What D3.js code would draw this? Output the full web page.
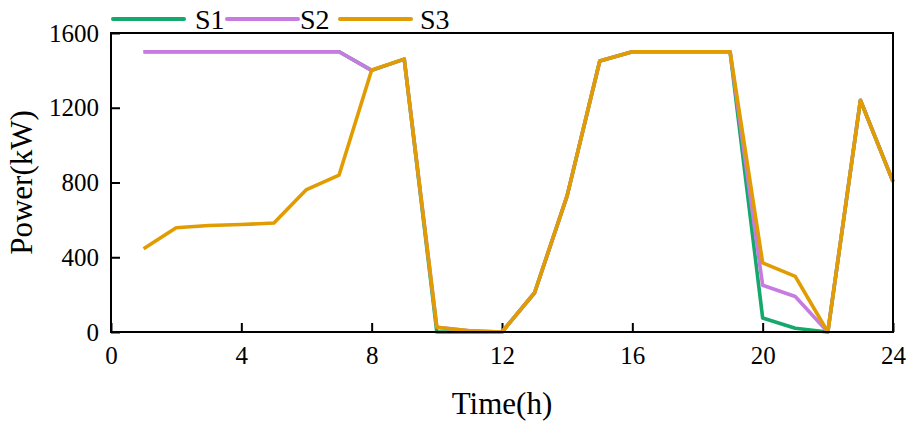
<!DOCTYPE html>
<html>
<head>
<meta charset="utf-8">
<script src="https://cdn.jsdelivr.net/npm/d3@7"></script>
<style>
  body { margin: 0; background: #fff; }
  svg text { font-family: "Liberation Serif", "Times New Roman", serif; fill: #000; }
</style>
</head>
<body>
<div id="chart"></div>
<script>
// hours 1..24
const hours = d3.range(1, 25);
const seriesNames = ["S1", "S2", "S3"];
const seriesColors = ["#14a86b", "#c77be0", "#e09c00"];

const s1 = [1500, 1500, 1500, 1500, 1500, 1500, 1500, 1400, 1460, 0, 0, 0,
            210, 730, 1450, 1500, 1500, 1500, 1500, 75, 20, 0, 1240, 805];
const s2 = [1500, 1500, 1500, 1500, 1500, 1500, 1500, 1400, 1460, 25, 6, 0,
            210, 730, 1450, 1500, 1500, 1500, 1500, 250, 190, 0, 1240, 805];
const s3 = [445, 558, 570, 575, 583, 762, 840, 1402, 1460, 25, 6, 0,
            210, 730, 1450, 1500, 1500, 1500, 1500, 370, 298, 0, 1240, 805];
const seriesValues = [s1, s2, s3];

const xTicks = [0, 4, 8, 12, 16, 20, 24];
const yTicks = [0, 400, 800, 1200, 1600];

const W = 909, H = 427;
const margin = { top: 33, right: 16, bottom: 95, left: 111 };
const innerW = W - margin.left - margin.right;
const innerH = H - margin.top - margin.bottom;

const svgRoot = d3.select("#chart").append("svg")
  .attr("width", W).attr("height", H);
const svg = svgRoot.append("g")
  .attr("transform", `translate(${margin.left},${margin.top})`);

const x = d3.scaleLinear().domain([0, 24]).range([0, innerW]);
const y = d3.scaleLinear().domain([0, 1600]).range([innerH, 0]);

// Axes (ticks point inward)
const xAxis = svg.append("g")
  .attr("transform", `translate(0,${innerH})`)
  .call(d3.axisBottom(x).tickValues(xTicks).tickFormat(d3.format("d"))
    .tickSize(-9).tickSizeOuter(0).tickPadding(14));
const yAxis = svg.append("g")
  .call(d3.axisLeft(y).tickValues(yTicks).tickFormat(d3.format("d"))
    .tickSize(-9).tickSizeOuter(0).tickPadding(12));

[xAxis, yAxis].forEach((g) => {
  g.attr("font-family", null).attr("font-size", null);
  g.selectAll("path").remove();
  g.selectAll("line").attr("stroke", "#000").attr("stroke-width", 2);
  g.selectAll("text")
    .style("font-family", "'Liberation Serif', 'Times New Roman', serif")
    .style("font-size", "25px");
});

// Lines
const line = d3.line()
  .x((d, i) => x(hours[i]))
  .y((d) => y(d));

seriesValues.forEach((vals, i) => {
  svg.append("path")
    .datum(vals)
    .attr("fill", "none")
    .attr("stroke", seriesColors[i])
    .attr("stroke-width", 3.6)
    .attr("stroke-linejoin", "round")
    .attr("d", line);
});

// Frame
svg.append("rect")
  .attr("x", 0).attr("y", 0)
  .attr("width", innerW).attr("height", innerH)
  .attr("fill", "none")
  .attr("stroke", "#000")
  .attr("stroke-width", 2);

// Axis titles
svgRoot.append("text")
  .attr("x", margin.left + innerW / 2)
  .attr("y", 414)
  .attr("text-anchor", "middle")
  .style("font-size", "31px")
  .text("Time(h)");

svgRoot.append("text")
  .attr("transform", `translate(32,${margin.top + innerH / 2}) rotate(-90)`)
  .attr("text-anchor", "middle")
  .style("font-size", "31px")
  .text("Power(kW)");

// Legend
const legendLineX = [113, 227, 340];
const legendTextX = [195, 300, 420];
seriesNames.forEach((name, i) => {
  svgRoot.append("line")
    .attr("x1", legendLineX[i]).attr("x2", legendLineX[i] + 71)
    .attr("y1", 19).attr("y2", 19)
    .attr("stroke", seriesColors[i])
    .attr("stroke-width", 4)
    .attr("stroke-linecap", "round");
  svgRoot.append("text")
    .attr("x", legendTextX[i]).attr("y", 29)
    .style("font-size", "28px")
    .text(name);
});
</script>
</body>
</html>
